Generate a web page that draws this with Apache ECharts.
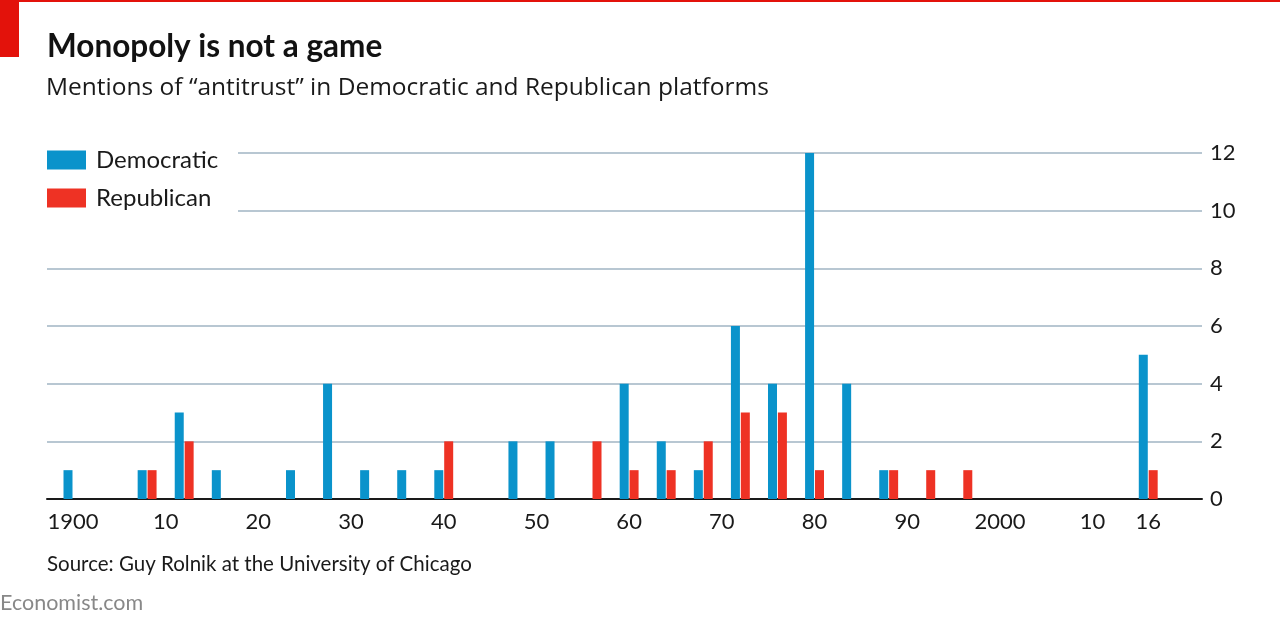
<!DOCTYPE html>
<html>
<head>
<meta charset="utf-8">
<script src="https://cdn.jsdelivr.net/npm/echarts@6/dist/echarts.min.js"></script>
<style>
html,body{margin:0;padding:0;background:#fff;}
#chart{width:1280px;height:626px;}
</style>
</head>
<body>
<div id="chart"></div>
<script>
// Election years
const years = [1900,1904,1908,1912,1916,1920,1924,1928,1932,1936,1940,1944,1948,1952,1956,1960,1964,1968,1972,1976,1980,1984,1988,1992,1996,2000,2004,2008,2012,2016];
// Mentions of "antitrust"
const democratic = [1,0,1,3,1,0,1,4,1,1,1,0,2,2,0,4,2,1,6,4,12,4,1,0,0,0,0,0,0,5];
const republican = [0,0,1,2,0,0,0,0,0,0,2,0,0,0,2,1,1,2,3,3,1,0,1,1,1,0,0,0,0,1];
// Axis tick labels
const xTickValues = [1900,1910,1920,1930,1940,1950,1960,1970,1980,1990,2000,2010,2016];
const xTickLabels = {1900:'1900',1910:'10',1920:'20',1930:'30',1940:'40',1950:'50',1960:'60',1970:'70',1980:'80',1990:'90',2000:'2000',2010:'10',2016:'16'};

const FONT = 'Lato, "Noto Sans", sans-serif';
const chart = echarts.init(document.getElementById('chart'), null, {renderer:'canvas'});

const toPairs = arr => years.map((y,i) => [y, arr[i] === 0 ? null : arr[i]]);

chart.setOption({
  backgroundColor:'#fff',
  animation:false,
  grid:{left:47, right:78, top:153, bottom:127, containLabel:false},
  xAxis:{
    type:'value', min:1897.2, max:2021.8,
    splitLine:{show:false},
    axisLine:{show:true, onZero:false, lineStyle:{color:'#1a1a1a', width:2}},
    axisTick:{show:false},
    axisLabel:{
      customValues:xTickValues,
      formatter:v => xTickLabels[v] || '',
      color:'#1a1a1a', fontFamily:FONT, fontSize:22, margin:12
    }
  },
  yAxis:{
    type:'value', position:'right', min:0, max:12, interval:2,
    axisLine:{show:false}, axisTick:{show:false},
    splitLine:{lineStyle:{color:'#b8c7d2', width:2}},
    axisLabel:{color:'#1a1a1a', fontFamily:FONT, fontSize:22, margin:8, align:'left'}
  },
  legend:{
    orient:'vertical', left:47, top:148, padding:0, itemWidth:39, itemHeight:19, itemGap:14,
    icon:'rect', z:20,
    textStyle:{fontFamily:FONT, fontSize:24, lineHeight:19, color:'#1a1a1a', padding:[0,0,0,5]},
    data:['Democratic','Republican']
  },
  series:[
    {name:'Democratic', type:'bar', data:toPairs(democratic), barWidth:9, barGap:'10%',
     itemStyle:{color:'#0a93cb'}, z:5},
    {name:'Republican', type:'bar', data:toPairs(republican), barWidth:9, barGap:'10%',
     itemStyle:{color:'#ee3224'}, z:5}
  ],
  graphic:[
    {type:'rect', left:0, top:0, shape:{width:1280, height:2}, style:{fill:'#e3120b'}, z:30},
    {type:'rect', left:0, top:0, shape:{width:19, height:57}, style:{fill:'#e3120b'}, z:30},
    {type:'rect', left:40, top:140, shape:{width:198, height:78}, style:{fill:'#fff'}, z:10},
    {type:'text', left:47, top:31, style:{text:'Monopoly is not a game', fontFamily:FONT, fontWeight:'bold', fontSize:31.5, fill:'#121212'}, z:30},
    {type:'text', left:46, top:76, style:{text:'Mentions of \u201cantitrust\u201d in Democratic and Republican platforms', fontFamily:'"Open Sans", sans-serif', fontSize:24.5, fill:'#1a1a1a'}, z:30},
    {type:'text', left:47, top:554, style:{text:'Source: Guy Rolnik at the University of Chicago', fontFamily:FONT, fontSize:20.5, fill:'#1a1a1a'}, z:30},
    {type:'text', left:0, top:592, style:{text:'Economist.com', fontFamily:FONT, fontSize:21.5, fill:'#888888'}, z:30}
  ]
});
</script>
</body>
</html>
